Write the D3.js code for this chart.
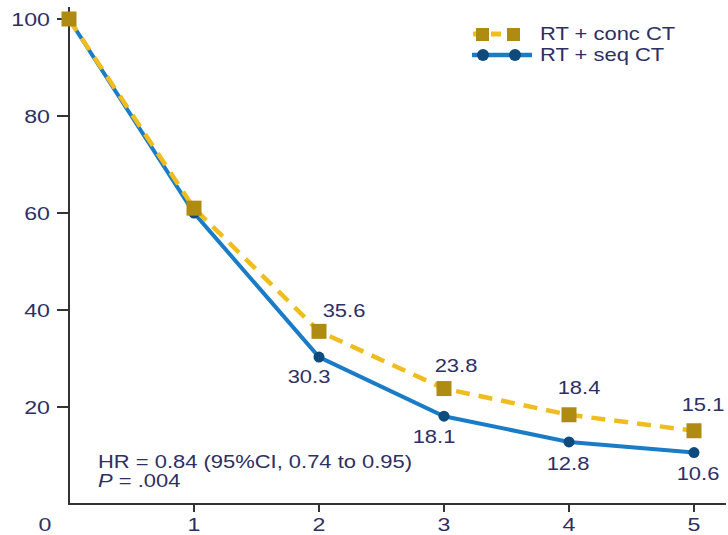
<!DOCTYPE html>
<html>
<head>
<meta charset="utf-8">
<script src="https://cdn.jsdelivr.net/npm/d3@7"></script>
<style>
  body { margin: 0; background: #fff; }
  svg text { font-family: "Liberation Sans", Arial, sans-serif; fill: #2e2f63; }
</style>
</head>
<body>
<svg width="728" height="535"></svg>
<script>
const years = [0, 1, 2, 3, 4, 5];
const concCT = [100, 61, 35.6, 23.8, 18.4, 15.1];
const seqCT = [100, 60, 30.3, 18.1, 12.8, 10.6];
const yTicks = [20, 40, 60, 80, 100];
const xTicks = [1, 2, 3, 4, 5];

// label offsets (px) relative to each point, skipping year 0
const concLabelOff = [null, null, [25, -14], [12, -17], [10, -21], [9, -20]];
const seqLabelOff = [null, null, [-10, 26], [-10, 27], [-1, 28], [4, 27]];

const svg = d3.select("svg");
const stretch = 1.22;   // the text in the source is a bit wide

function addText(px, py, str, size, anchor) {
    return svg.append("text")
              .attr("transform", `translate(${px},${py}) scale(${stretch},1)`)
              .attr("text-anchor", anchor || "start")
              .style("font-size", size + "px")
              .text(str);
}

const x = d3.scaleLinear().domain([0, 5]).range([69, 694]);
const y = d3.scaleLinear().domain([0, 100]).range([504, 19]);

// axes
svg.append("line")
   .attr("x1", 69).attr("x2", 69).attr("y1", 7).attr("y2", 504)
   .attr("stroke", "#333").attr("stroke-width", 2);
svg.append("line")
   .attr("x1", 68).attr("x2", 726).attr("y1", 504).attr("y2", 504)
   .attr("stroke", "#333").attr("stroke-width", 2);

yTicks.forEach(t => {
    svg.append("line")
       .attr("x1", 57).attr("x2", 69).attr("y1", y(t)).attr("y2", y(t))
       .attr("stroke", "#333").attr("stroke-width", 2);
    addText(50, y(t) + 7, t, 19, "end");
});

xTicks.forEach(t => {
    svg.append("line")
       .attr("x1", x(t)).attr("x2", x(t)).attr("y1", 504).attr("y2", 512)
       .attr("stroke", "#333").attr("stroke-width", 2);
    addText(x(t), 531, t, 19, "middle");
});

addText(45, 531, "0", 19, "middle");

const line = d3.line().x((d, i) => x(years[i])).y(d => y(d));

// seq CT (solid blue)
svg.append("path")
   .datum(seqCT)
   .attr("d", line)
   .attr("fill", "none")
   .attr("stroke", "#1a7cc6")
   .attr("stroke-width", 4);

// conc CT (dashed yellow)
svg.append("path")
   .datum(concCT)
   .attr("d", line)
   .attr("fill", "none")
   .attr("stroke", "#f0bd1e")
   .attr("stroke-width", 4.5)
   .attr("stroke-dasharray", "14,9");

svg.selectAll(".seqpt")
   .data(seqCT.slice(1))
   .enter()
   .append("circle")
   .attr("class", "seqpt")
   .attr("cx", (d, i) => x(years[i + 1]))
   .attr("cy", d => y(d))
   .attr("r", 5.5)
   .attr("fill", "#0e4a7c");

svg.selectAll(".concpt")
   .data(concCT)
   .enter()
   .append("rect")
   .attr("class", "concpt")
   .attr("x", (d, i) => x(years[i]) - 7.5)
   .attr("y", d => y(d) - 7.5)
   .attr("width", 15)
   .attr("height", 15)
   .attr("fill", "#b08b12");

// value labels
concCT.forEach((v, i) => {
    if (!concLabelOff[i]) return;
    addText(x(years[i]) + concLabelOff[i][0], y(v) + concLabelOff[i][1], v.toFixed(1), 18, "middle");
});
seqCT.forEach((v, i) => {
    if (!seqLabelOff[i]) return;
    addText(x(years[i]) + seqLabelOff[i][0], y(v) + seqLabelOff[i][1], v.toFixed(1), 18, "middle");
});

// legend
svg.append("line")
   .attr("x1", 473).attr("x2", 521).attr("y1", 34).attr("y2", 34)
   .attr("stroke", "#f0bd1e").attr("stroke-width", 5)
   .attr("stroke-dasharray", "10,8");
svg.append("rect").attr("x", 476).attr("y", 28).attr("width", 13).attr("height", 13).attr("fill", "#b08b12");
svg.append("rect").attr("x", 507).attr("y", 28).attr("width", 13).attr("height", 13).attr("fill", "#b08b12");
addText(540, 40, "RT + conc CT", 18);

svg.append("line")
   .attr("x1", 472).attr("x2", 532).attr("y1", 55).attr("y2", 55)
   .attr("stroke", "#1a7cc6").attr("stroke-width", 4.5);
svg.append("circle").attr("cx", 483).attr("cy", 55).attr("r", 6).attr("fill", "#0e4a7c");
svg.append("circle").attr("cx", 515).attr("cy", 55).attr("r", 6).attr("fill", "#0e4a7c");
addText(540, 61, "RT + seq CT", 18);

// annotation
addText(98, 468, "HR = 0.84 (95%CI, 0.74 to 0.95)", 18);
const pt = addText(98, 487, "", 18);
pt.append("tspan").style("font-style", "italic").text("P");
pt.append("tspan").text(" = .004");
</script>
</body>
</html>
